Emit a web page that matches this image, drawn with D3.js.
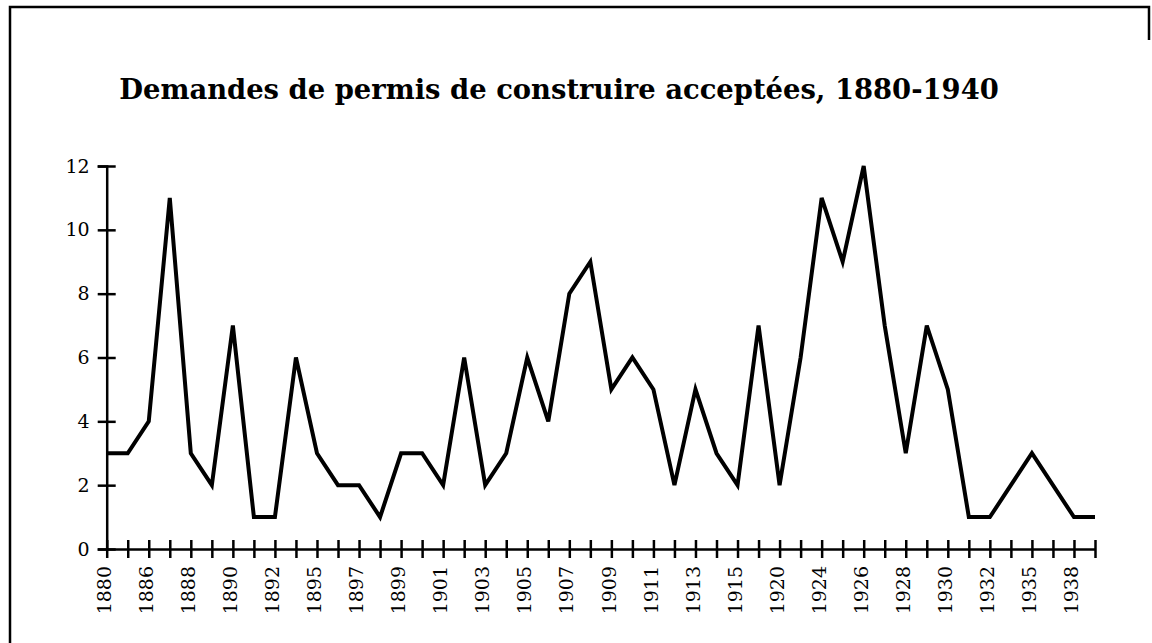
<!DOCTYPE html>
<html><head><meta charset="utf-8">
<script src="https://cdn.jsdelivr.net/npm/d3@7"></script>
<style>body{margin:0;background:#fff}svg{display:block}</style>
</head><body>
<svg id="chart" width="1152" height="643"></svg>
<script>
const title = "Demandes de permis de construire acceptées, 1880-1940";
const years = ["1880","1885","1886","1887","1888","1889","1890","1891","1892","1894","1895","1896","1897","1898","1899","1900","1901","1902","1903","1904","1905","1906","1907","1908","1909","1910","1911","1912","1913","1914","1915","1919","1920","1922","1924","1925","1926","1927","1928","1929","1930","1931","1932","1934","1935","1936","1938","1939"];
const permits = [3,3,4,11,3,2,7,1,1,6,3,2,2,1,3,3,2,6,2,3,6,4,8,9,5,6,5,2,5,3,2,7,2,6,11,9,12,7,3,7,5,1,1,2,3,2,1,1];
const yTicks = [0,2,4,6,8,10,12];

const svg = d3.select("#chart");
const serif = "'DejaVu Serif', serif";
const serifT = "'Liberation Serif', serif";

// frame
svg.append("path")
  .attr("d", "M10,643 L10,7 L1149,7 L1149,40")
  .attr("fill", "none").attr("stroke", "#000").attr("stroke-width", 2.5);

const t = svg.append("text")
  .attr("x", 559).attr("y", 99)
  .attr("text-anchor", "middle")
  .style("font-family", serif).style("font-weight", "bold").style("font-size", "26px")
  .text(title);
// shrink/grow font so the title spans the same width as in the original
const w = t.node().getComputedTextLength();
t.style("font-size", (26 * 880 / w).toFixed(2) + "px");

const x = d3.scalePoint().domain(years).range([106.7, 1095]);
const y = d3.scaleLinear().domain([0, 12]).range([549, 166]);

// y axis
const gy = svg.append("g").attr("transform", `translate(${x(years[0])},0)`)
  .call(d3.axisLeft(y).tickValues(yTicks).tickSize(9).tickPadding(8));
gy.select(".domain").attr("stroke-width", 2.5);
gy.selectAll(".tick line").attr("x1", 9).attr("stroke-width", 2.5);
gy.selectAll(".tick text").style("font-family", serif).style("font-size", "19px")
  .attr("fill", "#000");

// x axis
const gx = svg.append("g").attr("transform", `translate(0,${y(0)})`)
  .call(d3.axisBottom(x).tickSize(9).tickSizeOuter(0)
    .tickFormat((d, i) => i % 2 === 0 ? d : ""));
gx.select(".domain").attr("stroke-width", 2.5);
gx.selectAll(".tick line").attr("y1", -9).attr("stroke-width", 2.5);
gx.selectAll(".tick text")
  .style("font-family", serif).style("font-size", "19px").attr("fill", "#000")
  .attr("text-anchor", "end")
  .attr("transform", "rotate(-90)")
  .attr("x", -17).attr("y", -3).attr("dy", "0.35em");

// line
svg.append("path")
  .datum(permits)
  .attr("fill", "none").attr("stroke", "#000").attr("stroke-width", 4)
  .attr("stroke-linejoin", "miter")
  .attr("d", d3.line().x((d, i) => x(years[i])).y(d => y(d)));
</script>
</body></html>
